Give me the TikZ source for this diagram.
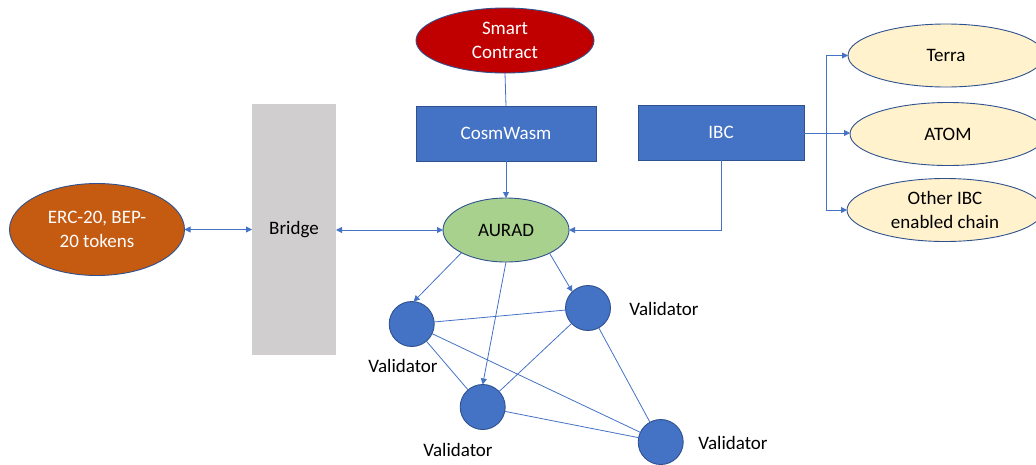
\documentclass[tikz,border=0pt]{standalone}
\usepackage{fontspec}
\setmainfont{Carlito}
\usetikzlibrary{shapes.geometric,arrows.meta}
\definecolor{cblue}{HTML}{4472C4}
\definecolor{cborder}{HTML}{2F528F}
\definecolor{cred}{HTML}{C00000}
\definecolor{corange}{HTML}{C55A11}
\definecolor{cgreen}{HTML}{A9D18E}
\definecolor{ccream}{HTML}{FFF2CC}
\definecolor{cgray}{HTML}{D0CECE}
\begin{document}
\begin{tikzpicture}[x=1pt,y=-1pt,
  every node/.style={font=\fontsize{19}{24}\selectfont, inner sep=0pt, outer sep=0pt},
  ell/.style={ellipse, draw=cborder, line width=0.9pt, align=center},
  boxnode/.style={rectangle, draw=cborder, line width=0.9pt, fill=cblue, text=white},
  vnode/.style={circle, draw=cborder, line width=0.9pt, fill=cblue, minimum size=45pt},
  conn/.style={draw=cblue, line width=0.8pt},
  arr/.style={conn, -{Triangle[length=6pt,width=6pt]}},
  darr/.style={conn, {Triangle[length=6pt,width=6pt]}-{Triangle[length=6pt,width=6pt]}}
]
\useasboundingbox (0,0) rectangle (1036,464);
\clip (0,0) rectangle (1036,464);

% main nodes
\node[ell, fill=cred, text=white, minimum width=178pt, minimum height=65pt] (sc) at (505,40.5) {Smart\\Contract};
\node[boxnode, minimum width=180pt, minimum height=55pt] (cw) at (506,133.5) {CosmWasm};
\node[boxnode, minimum width=166pt, minimum height=55pt] (ibc) at (721,132.5) {IBC};
\node[rectangle, fill=cgray, minimum width=84pt, minimum height=251pt] (bridge) at (294,229.5) {Bridge};
\node[ell, fill=corange, text=white, minimum width=175pt, minimum height=92pt] (erc) at (97,229.5) {ERC-20, BEP-\\20 tokens};
\node[ell, fill=cgreen, minimum width=126pt, minimum height=64pt] (aurad) at (506,230) {AURAD};

% IBC chains
\node[ell, fill=ccream, minimum width=196pt, minimum height=63pt] (terra) at (946,55.5) {Terra};
\node[ell, fill=ccream, minimum width=196pt, minimum height=63pt] (atom) at (948,134) {ATOM};
\node[ell, fill=ccream, minimum width=196pt, minimum height=63pt] (other) at (945,210) {Other IBC\\enabled chain};

% validators
\node[vnode] (v1) at (411.7,324) {};
\node[vnode] (v2) at (588,308) {};
\node[vnode] (v3) at (482.7,407) {};
\node[vnode] (v4) at (660.7,442) {};
\node (l1) at (403,366) {Validator};
\node (l2) at (664,309) {Validator};
\node (l3) at (458,450) {Validator};
\node (l4) at (733,443) {Validator};

% connectors
\draw[conn] (sc.south) -- (cw.north);
\draw[arr] (cw.south) -- (aurad.north);
\draw[darr] (erc.east) -- (bridge.west |- erc.east);
\draw[darr] (bridge.east |- aurad.west) -- (aurad.west);
\draw[arr] (ibc.south) |- (aurad.east);

\coordinate (fork) at (826,133);
\draw[conn] (ibc.east |- fork) -- (fork);
\draw[arr] (fork) |- (terra.west);
\draw[arr] (fork) -- (atom.west |- fork);
\draw[arr] (fork) |- (other.west);

\draw[arr] (aurad.207) -- (v1.85);
\draw[arr] (aurad.south) -- (v3.north);
\draw[arr] (aurad.332) -- (v2.134);

\draw[conn] (v1) -- (v2);
\draw[conn] (v1) -- (v3);
\draw[conn] (v1) -- (v4);
\draw[conn] (v2) -- (v3);
\draw[conn] (v2) -- (v4);
\draw[conn] (v3) -- (v4);
\end{tikzpicture}
\end{document}
